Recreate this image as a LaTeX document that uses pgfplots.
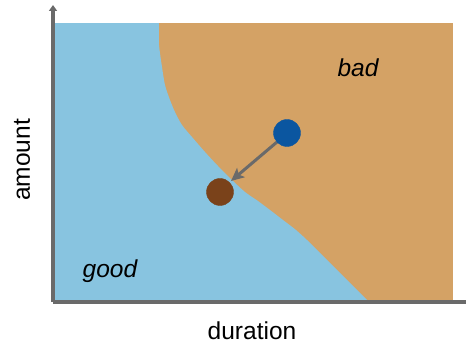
\documentclass[border=0pt]{standalone}
\usepackage{pgfplots}
\pgfplotsset{compat=1.18}
\usepackage{fontspec}
\setmainfont{Liberation Sans}
\usetikzlibrary{arrows.meta}
\definecolor{goodblue}{HTML}{88C4E0}
\definecolor{badorange}{HTML}{D4A265}
\definecolor{dotblue}{HTML}{0B56A0}
\definecolor{dotbrown}{HTML}{7A421A}
\definecolor{axgray}{HTML}{6A6A6A}
\begin{document}
\begin{tikzpicture}
\begin{axis}[
  scale only axis,
  width=413pt, height=297pt,
  xmin=0, xmax=413, ymin=0, ymax=297,
  axis x line=bottom, axis y line=left,
  xtick=\empty, ytick=\empty,
  axis on top=true,
  clip=false,
  x axis line style={-, line width=3.5pt, color=axgray},
  y axis line style={-{Triangle[width=8pt,length=6pt]}, line width=3.5pt, color=axgray},
  font=\fontsize{24.5}{29}\selectfont,
]
% bad region (whole area)
\addplot[draw=none, fill=badorange] coordinates {(0,0) (400,0) (400,279) (0,279)} -- cycle;
% good region: left strip
\addplot[draw=none, fill=goodblue] coordinates {(0,0) (105.5,0) (105.5,279) (0,279)} -- cycle;
% good region: under the boundary
\addplot[draw=none, fill=goodblue, smooth, tension=0.5] coordinates {
(105,279) (106,257) (109,235) (112,217) (117,202) (122,190) (129,177) (139,165)
(152,150) (165,136) (179,122) (192,110) (205,101) (217,92) (230,82) (243,72)
(254,62) (264,52) (274,42) (284,32) (294,22) (304,12) (314,2) (315.5,0)} \closedcycle;
% arrow
\addplot[axgray, line width=3pt, -{Stealth[length=13pt,width=12pt,inset=3pt]}] coordinates {(224,160) (178,121)};
% dots
\addplot[only marks, mark=*, mark size=13.5pt, color=dotblue] coordinates {(234,169)};
\addplot[only marks, mark=*, mark size=13.5pt, color=dotbrown] coordinates {(167,110)};
\node[anchor=base, font=\fontsize{24.5}{29}\selectfont\itshape] at (axis cs:305,225) {bad};
\node[anchor=base, font=\fontsize{24.5}{29}\selectfont\itshape] at (axis cs:57,24) {good};
\node[anchor=base] at (axis cs:199,-38) {duration};
\node[rotate=90, anchor=center] at (axis cs:-31,142) {amount};
\coordinate (O) at (axis cs:0,0);
\end{axis}
\pgfresetboundingbox
\useasboundingbox ([shift={(-53pt,-43pt)}]O) rectangle ([shift={(413pt,302pt)}]O);
\end{tikzpicture}
\end{document}
